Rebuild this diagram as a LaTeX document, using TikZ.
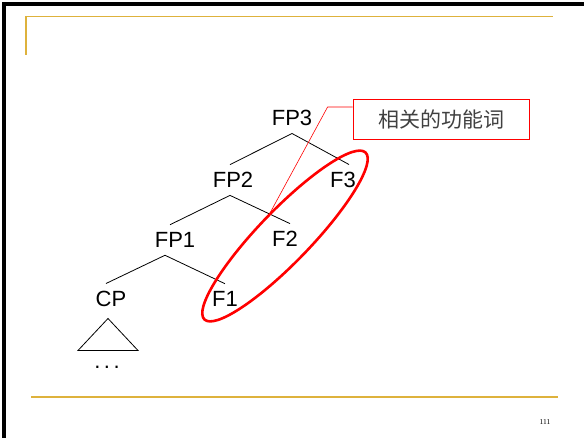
\documentclass[tikz,border=0pt]{standalone}
\usepackage{fontspec}
\setmainfont{Liberation Sans}
\newfontfamily\cjkfont{Noto Sans CJK SC}
\newfontfamily\pagefont{Liberation Serif}
\definecolor{slidegold}{RGB}{222,178,60}

\begin{document}
\begin{tikzpicture}[x=1pt,y=-1pt,
    lbl/.style={font=\fontsize{22}{22}\selectfont, inner xsep=1pt, inner ysep=7.5pt},
    branch/.style={black, line width=0.8pt},
    goldline/.style={slidegold, line width=1.8pt}]
    \useasboundingbox (0,0) rectangle (584,438);
    % slide frame
    \draw[line width=4pt] (3.5,438) -- (3.5,4) -- (584,4);
    \draw[goldline] (26,55) -- (26,16.5) -- (553,16.5);
    \draw[goldline] (31,397) -- (558,397);
    \node[font=\pagefont\fontsize{7.5}{8}\selectfont] (pagenum) at (545,422) {111};
    % the tree
    \node[lbl] (FP3) at (292,118) {FP3};
    \node[lbl] (FP2) at (233,180) {FP2};
    \node[lbl] (F3) at (343,180) {F3};
    \node[lbl] (FP1) at (175,240) {FP1};
    \node[lbl] (F2) at (285,239) {F2};
    \node[lbl] (CP) at (111,299) {CP};
    \node[lbl] (F1) at (225,299) {F1};
    \draw[branch] ([xshift=-3pt]FP2.north) -- (FP3.south) -- ([xshift=6pt]F3.north);
    \draw[branch] ([xshift=-5pt]FP1.north) -- ([xshift=-3pt]FP2.south) -- ([xshift=5pt]F2.north);
    \draw[branch] ([xshift=-5pt]CP.north) -- ([xshift=-10pt]FP1.south) -- (F1.north);
    \draw[branch] ([xshift=-3pt,yshift=-4pt]CP.south) -- ++(-30,32) -- ++(60,0) -- cycle;
    \node[lbl] (dots) at (107,367) {.\hspace{3.5pt}.\hspace{3.5pt}.};
    % functional words
    \draw[red, line width=2.6pt, rotate around={46:(285,236)}] (285,236) ellipse (116pt and 26pt);
    \node[draw=red, line width=0.8pt, minimum width=176pt, minimum height=40pt,
          font=\cjkfont\fontsize{21}{21}\selectfont, text=black!75] (note) at (441,119) {相关的功能词};
    \coordinate (tip) at (270,213);
    \draw[red, line width=0.6pt] ([yshift=12pt]note.west) -- ++(-25,0) -- (tip);
\end{tikzpicture}
\end{document}
